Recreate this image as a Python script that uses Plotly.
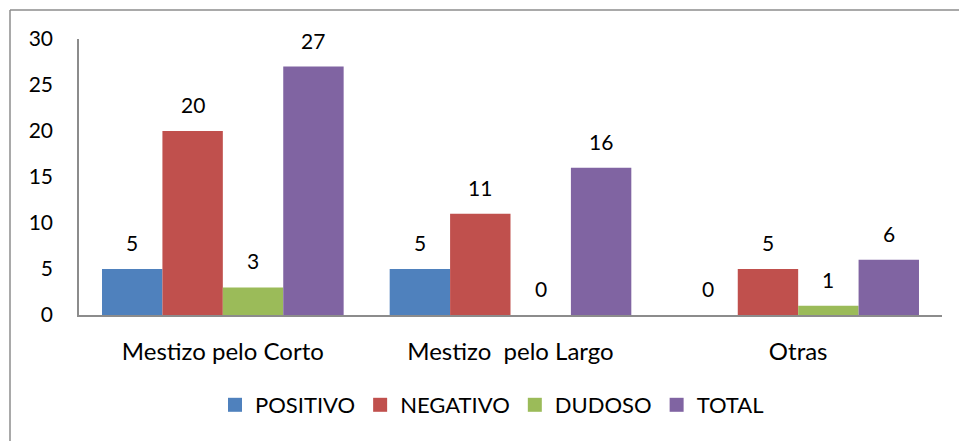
import plotly.graph_objects as go

categories = ["Mestizo pelo Corto", "Mestizo  pelo Largo", "Otras"]
positivo = [5, 5, 0]
negativo = [20, 11, 5]
dudoso = [3, 0, 1]
total = [27, 16, 6]

series = [
    ("POSITIVO", positivo, "#4F81BD"),
    ("NEGATIVO", negativo, "#C0504D"),
    ("DUDOSO", dudoso, "#9BBB59"),
    ("TOTAL", total, "#8064A2"),
]

FONT = "Lato, 'Open Sans', sans-serif"
W, H = 959, 441
ML, MR, MT, MB = 79, 17, 39, 126
BARGAP = 0.16
plot_w = W - ML - MR
plot_h = H - MT - MB
cat_px = plot_w / len(categories)
bar_px = cat_px * (1 - BARGAP) / len(series)

fig = go.Figure()
annotations = []
for i, (name, vals, color) in enumerate(series):
    fig.add_trace(go.Bar(
        name=name, x=categories, y=vals, marker_color=color,
        marker_line_width=0, showlegend=False, legendgroup=name,
    ))
    # legend entry with a square swatch
    fig.add_trace(go.Scatter(
        name=name, x=[None], y=[None], mode="markers", legendgroup=name,
        marker=dict(symbol="square", size=14, color=color), showlegend=True,
    ))
    off = (i - (len(series) - 1) / 2) * bar_px
    for c, v in zip(categories, vals):
        annotations.append(dict(
            x=c, y=v, xref="x", yref="y", text=str(v), showarrow=False,
            xshift=off, yshift=12, yanchor="bottom",
            font=dict(size=21, color="black", family=FONT),
        ))

fig.update_layout(
    width=W, height=H,
    margin=dict(l=ML, r=MR, t=MT, b=MB, autoexpand=False),
    paper_bgcolor="white", plot_bgcolor="white",
    barmode="group", bargap=BARGAP, bargroupgap=0,
    font=dict(family=FONT, size=21, color="black"),
    showlegend=True,
    legend=dict(orientation="h", x=(492 - ML) / plot_w, xanchor="center",
                y=-(405 - (H - MB)) / plot_h,
                yanchor="middle", font=dict(size=22), traceorder="normal", itemwidth=30),
    xaxis=dict(showline=True, linecolor="#8c8c8c", linewidth=1.5, ticks="",
               showgrid=False, ticklabelstandoff=14, tickfont=dict(size=24)),
    yaxis=dict(range=[0, 30], dtick=5, showline=True, linecolor="#8c8c8c", linewidth=1.5,
               showgrid=False, ticks="", ticklabelstandoff=20, zeroline=False,
               tickfont=dict(size=21)),
    annotations=annotations,
    shapes=[
        dict(type="line", xref="paper", yref="paper",
             x0=(10 - ML) / plot_w, x1=(W - ML) / plot_w,
             y0=1 + (MT - 10) / plot_h, y1=1 + (MT - 10) / plot_h,
             line=dict(color="#8c8c8c", width=1.5)),
        dict(type="line", xref="paper", yref="paper",
             x0=(10 - ML) / plot_w, x1=(10 - ML) / plot_w,
             y0=-(H - (H - MB)) / plot_h, y1=1 + (MT - 10) / plot_h,
             line=dict(color="#8c8c8c", width=1.5)),
    ],
)

fig.write_html("out.html", config={"displayModeBar": False},
               post_script="document.body.style.margin='0';document.body.style.overflow='hidden';")
